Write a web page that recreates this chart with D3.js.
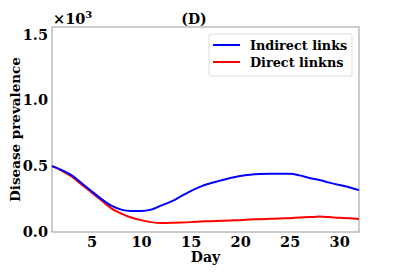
<!DOCTYPE html>
<html><head><meta charset="utf-8">
<script src="https://cdn.jsdelivr.net/npm/d3@7"></script>
<style>body{margin:0;background:#fff}text{font-family:"DejaVu Serif",serif;font-weight:bold}</style>
</head><body><svg id="c" width="399" height="273"></svg>
<script>
const days = d3.range(1, 33);
const indirect = [0.5,0.47,0.43,0.37,0.31,0.25,0.2,0.17,0.16,0.16,0.17,0.2,0.23,0.27,0.31,0.345,0.37,0.39,0.41,0.425,0.435,0.44,0.442,0.442,0.442,0.43,0.41,0.395,0.375,0.357,0.34,0.318];
const direct = [0.5,0.465,0.42,0.36,0.3,0.24,0.18,0.14,0.11,0.09,0.075,0.068,0.07,0.072,0.075,0.08,0.082,0.085,0.088,0.09,0.095,0.097,0.1,0.103,0.105,0.11,0.113,0.117,0.113,0.108,0.105,0.098];
const xTicks = [5,10,15,20,25,30];
const yTicks = [0,0.5,1.0,1.5];
const seriesNames = ["Indirect links","Direct linkns"];
const colors = ["#0000ff","#ff0000"];

const L=52,R=359,T=27,B=232;
const svg=d3.select("#c");
const x=d3.scaleLinear().domain([1,32]).range([L,R]);
const y=d3.scaleLinear().domain([0,1.557]).range([B,T]);

svg.append("rect").attr("x",L).attr("y",T).attr("width",R-L).attr("height",B-T).attr("fill","none").attr("stroke","#999").attr("stroke-width",1);

const xa=svg.append("g").attr("transform",`translate(0,${B})`).call(d3.axisBottom(x).tickValues(xTicks).tickSize(0).tickPadding(5).tickFormat(d3.format("d")));
xa.select(".domain").remove();
xa.selectAll("text").attr("font-size",14.5).attr("fill","#000").style("font-family","DejaVu Serif").style("font-weight","bold");
const ya=svg.append("g").attr("transform",`translate(${L},0)`).call(d3.axisLeft(y).tickValues(yTicks).tickSize(0).tickPadding(4).tickFormat(d3.format(".1f")));
ya.select(".domain").remove();
ya.selectAll("text").attr("font-size",14.5).attr("fill","#000").style("font-family","DejaVu Serif").style("font-weight","bold");

const line=arr=>d3.line().x((d,i)=>x(days[i])).y(d=>y(d)).curve(d3.curveMonotoneX)(arr);
svg.append("path").attr("d",line(direct)).attr("fill","none").attr("stroke",colors[1]).attr("stroke-width",2);
svg.append("path").attr("d",line(indirect)).attr("fill","none").attr("stroke",colors[0]).attr("stroke-width",2);

svg.append("text").attr("x",53).attr("y",24).attr("font-size",14.5).text("×10").append("tspan").attr("font-size",10).attr("dy",-6).text("3");
svg.append("text").attr("x",194).attr("y",24).attr("text-anchor","middle").attr("font-size",14).text("(D)");

svg.append("text").attr("transform",`translate(20,${(T+B)/2}) rotate(-90)`).attr("text-anchor","middle").attr("font-size",13.5).text("Disease prevalence");
svg.append("text").attr("x",(L+R)/2).attr("y",262).attr("text-anchor","middle").attr("font-size",14).text("Day");

const lg=svg.append("g");
lg.append("rect").attr("x",209).attr("y",34).attr("width",143).attr("height",42).attr("rx",2).attr("fill","#fff").attr("stroke","#ddd");
seriesNames.forEach((n,i)=>{
  const yy=45+i*17;
  lg.append("line").attr("x1",213).attr("x2",240).attr("y1",yy).attr("y2",yy).attr("stroke",colors[i]).attr("stroke-width",2);
  lg.append("text").attr("x",250).attr("y",yy+4.5).attr("font-size",12.8).text(n);
});
</script></body></html>
